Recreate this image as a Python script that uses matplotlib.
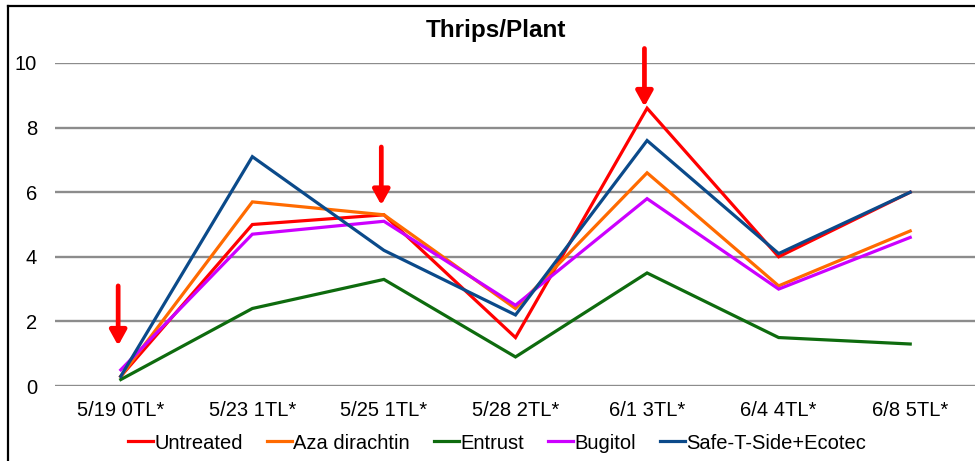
import matplotlib.pyplot as plt
from matplotlib.lines import Line2D

plt.rcParams['font.family'] = ['Liberation Sans', 'DejaVu Sans']

dates = ["5/19 0TL*", "5/23 1TL*", "5/25 1TL*", "5/28 2TL*", "6/1 3TL*", "6/4 4TL*", "6/8 5TL*"]
untreated = [0.3, 5.0, 5.3, 1.5, 8.6, 4.0, 6.0]
aza = [0.3, 5.7, 5.3, 2.4, 6.6, 3.1, 4.8]
entrust = [0.2, 2.4, 3.3, 0.9, 3.5, 1.5, 1.3]
bugitol = [0.5, 4.7, 5.1, 2.5, 5.8, 3.0, 4.6]
safe_t = [0.3, 7.1, 4.2, 2.2, 7.6, 4.1, 6.0]

# spray dates marked with arrows: (date index, arrow start, arrow tip)
sprays = [(0, 3.1, 1.25), (2, 7.4, 5.6), (4, 10.45, 8.65)]

series = [
    ("Untreated", untreated, "#FF0000"),
    ("Aza dirachtin", aza, "#FF6A00"),
    ("Entrust", entrust, "#0E6B0E"),
    ("Bugitol", bugitol, "#CC00FF"),
    ("Safe-T-Side+Ecotec", safe_t, "#0B4A8A"),
]

fig = plt.figure(figsize=(9.75, 4.61), dpi=100)
ax = fig.add_axes([55 / 975, 1 - 386 / 461, 921 / 975, 323 / 461])

x = list(range(len(dates)))
for name, vals, color in series:
    ax.plot(x, vals, color=color, lw=2.3, label=name, solid_joinstyle='miter')

for i, y0, y1 in sprays:
    ax.annotate("", xy=(i - 0.02, y1), xytext=(i - 0.02, y0),
                arrowprops=dict(arrowstyle="-|>,head_width=0.5,head_length=0.9",
                                color="#FF0000", lw=3.4, shrinkA=0, shrinkB=0),
                annotation_clip=False)

ax.set_xlim(-0.5, 6.5)
ax.set_ylim(0, 10)
ax.set_yticks([0, 2, 4, 6, 8, 10])
ax.set_xticks(x)
ax.set_xticklabels(dates)
ax.yaxis.grid(True, color="#8C8C8C", lw=1.7)
ax.set_axisbelow(True)
for s in ax.spines.values():
    s.set_visible(False)
ax.tick_params(axis='both', length=0, labelsize=14.5)
ax.tick_params(axis='y', pad=13)
ax.tick_params(axis='x', pad=11)

fig.text(496 / 975, 1 - 30 / 461, "Thrips/Plant", ha='center', va='center',
         fontsize=17.5, fontweight='bold')

ax.legend(loc='center', bbox_to_anchor=(497 / 975, 18 / 461), bbox_transform=fig.transFigure,
          ncol=5, frameon=False, fontsize=14.5, handlelength=1.25, handletextpad=0.05,
          columnspacing=1.2)

# document frame around the chart
fig.add_artist(Line2D([8 / 975, 8 / 975], [0, 1 - 6 / 461], color='black', lw=1.6))
fig.add_artist(Line2D([8 / 975, 1], [1 - 6 / 461, 1 - 6 / 461], color='black', lw=1.6))

fig.savefig("out.png", dpi=100)
